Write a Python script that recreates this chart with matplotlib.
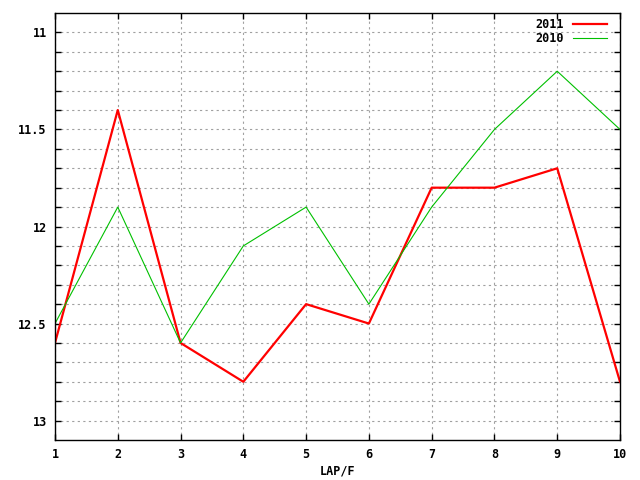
import matplotlib
matplotlib.use("Agg")
import matplotlib.pyplot as plt
import numpy as np

laps = [1, 2, 3, 4, 5, 6, 7, 8, 9, 10]
y2011 = [12.6, 11.4, 12.6, 12.8, 12.4, 12.5, 11.8, 11.8, 11.7, 12.8]
y2010 = [12.5, 11.9, 12.6, 12.1, 11.9, 12.4, 11.9, 11.5, 11.2, 11.5]

plt.rcParams['font.family'] = ['DejaVu Sans Mono']
plt.rcParams['font.weight'] = 'bold'

fig = plt.figure(figsize=(6.4, 4.8), dpi=100)
ax = fig.add_axes([55/640, 40/480, 565/640, 427/480])

ax.plot(laps, y2011, color='#ff0000', lw=1.6, label='2011')
ax.plot(laps, y2010, color='#00c000', lw=0.8, label='2010')

ax.set_xlim(1, 10)
ax.set_ylim(13.1, 10.9)
ax.set_xticks(laps)
yt = np.round(np.arange(11.0, 13.01, 0.1), 1)
ax.set_yticks(yt)
ax.set_yticklabels([(('%g' % v) if abs(v*2 - round(v*2)) < 1e-6 else '') for v in yt])
ax.tick_params(direction='in', length=4, width=1, top=True, right=True, labelsize=8.5, pad=6)
ax.grid(True, color='#a0a0a0', linestyle=(0, (2, 3)), lw=0.8)
for s in ax.spines.values():
    s.set_linewidth(1)
ax.set_xlabel('LAP/F', fontsize=8.5, fontweight='bold', labelpad=2)

leg = ax.legend(loc='upper right', bbox_to_anchor=(1 - 5/565, 1 + 3/427), frameon=False,
                fontsize=8.5, handlelength=2.9, markerfirst=False, borderaxespad=0.3,
                labelspacing=0.05, handletextpad=0.7)
for t in leg.get_texts():
    t.set_ha('right')

fig.savefig('out.png', dpi=100)
